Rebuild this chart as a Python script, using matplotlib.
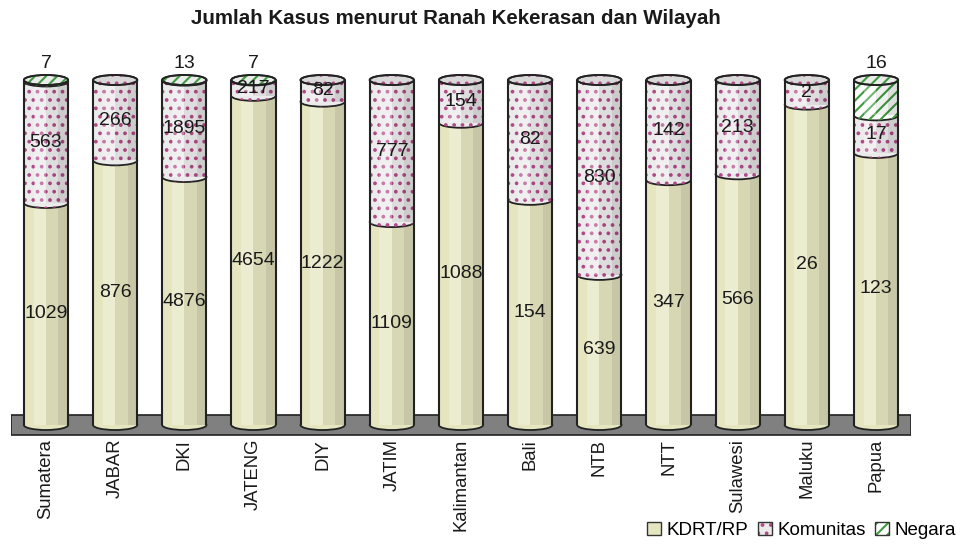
import matplotlib
matplotlib.use("Agg")
import matplotlib.pyplot as plt
import matplotlib.patches as mpatches
from matplotlib.legend_handler import HandlerTuple
import numpy as np

plt.rcParams['font.family'] = ['Liberation Sans', 'DejaVu Sans']
plt.rcParams['hatch.linewidth'] = 1.5

regions = ["Sumatera", "JABAR", "DKI", "JATENG", "DIY", "JATIM", "Kalimantan",
           "Bali", "NTB", "NTT", "Sulawesi", "Maluku", "Papua"]
kdrt = [1029, 876, 4876, 4654, 1222, 1109, 1088, 154, 639, 347, 566, 26, 123]
komunitas = [563, 266, 1895, 217, 82, 777, 154, 82, 830, 142, 213, 2, 17]
negara = [7, 0, 13, 7, 0, 0, 0, 0, 0, 0, 0, 0, 16]
series_names = ["KDRT/RP", "Komunitas", "Negara"]
title = "Jumlah Kasus menurut Ranah Kekerasan dan Wilayah"

series = [kdrt, komunitas, negara]
fills = ['#E5E5C0', '#ECEBEC', '#FFFFFF']
hatches = [None, '..', '///']
hatch_cols = [None, '#B04A86', '#3E9A3E']

W, H = 956, 546
fig = plt.figure(figsize=(W / 100, H / 100), dpi=100)
# axes: x from px 11.4 to 910.6 ; y: bottom px 436 -> top px 40
ax = fig.add_axes([11.4 / W, (H - 436) / H, (910.6 - 11.4) / W, (436 - 40) / H])
ppu = 3.45  # pixels per percent
ax.set_xlim(-0.5, len(regions) - 0.5)
ax.set_ylim(-(436 - 425) / ppu, (425 - 40) / ppu)
for s in ax.spines.values():
    s.set_visible(False)
ax.set_yticks([])

bw = 0.64
eh = 10 / ppu  # ellipse height in data units

# floor
fl = (425 - 415) / ppu
ax.add_patch(mpatches.Rectangle((-0.5, -fl), len(regions), 2 * fl, facecolor='#808080',
                                edgecolor='#222222', lw=1.2, zorder=1))

x = np.arange(len(regions))
totals = np.array(kdrt) + np.array(komunitas) + np.array(negara)

for i in range(len(regions)):
    bottom = 0.0
    top_idx = 0
    for k, vals in enumerate(series):
        v = vals[i]
        if v <= 0:
            continue
        p = v / totals[i] * 100
        z = 3 + 2 * k
        # bottom ellipse of the segment
        ax.add_patch(mpatches.Ellipse((x[i], bottom), bw, eh, facecolor=fills[k],
                                      edgecolor='#222222', lw=1.3, zorder=z))
        if hatches[k]:
            ax.add_patch(mpatches.Ellipse((x[i], bottom), bw, eh, facecolor='none',
                                          edgecolor=hatch_cols[k], hatch=hatches[k],
                                          lw=0, zorder=z))
        ax.bar(x[i], p, bw, bottom=bottom, color=fills[k], lw=0, zorder=z + 1)
        if hatches[k]:
            ax.bar(x[i], p, bw, bottom=bottom, color='none', edgecolor=hatch_cols[k],
                   hatch=hatches[k], lw=0, zorder=z + 1)
        # shading bands
        for (a0, a1, col, al) in [(0.22, 0.5, 'white', 0.28), (0.5, 0.78, 'black', 0.06),
                                  (0.78, 1.0, 'black', 0.13)]:
            ax.bar(x[i] - bw / 2 + bw * a0, p, bw * (a1 - a0), bottom=bottom, align='edge',
                   color=col, alpha=al, lw=0, zorder=z + 1)
        # value label
        if k < 2:
            ax.text(x[i], bottom + p / 2, f"{v}", ha='center', va='center', fontsize=14,
                    color='#1a1a1a', zorder=20)
        else:
            ax.text(x[i], 104.8, f"{v}", ha='center', va='center', fontsize=14,
                    color='#1a1a1a', zorder=20)
        bottom += p
        top_idx = k
    # top ellipse
    ax.add_patch(mpatches.Ellipse((x[i], 100), bw, eh, facecolor=fills[top_idx],
                                  edgecolor='#222222', lw=1.3, zorder=12))
    ax.add_patch(mpatches.Ellipse((x[i], 100), bw, eh, facecolor='#000000', alpha=0.08,
                                  lw=0, zorder=12))
    if hatches[top_idx]:
        ax.add_patch(mpatches.Ellipse((x[i], 100), bw, eh, facecolor='none',
                                      edgecolor=hatch_cols[top_idx], hatch=hatches[top_idx],
                                      lw=0, zorder=12))
    ax.add_patch(mpatches.Ellipse((x[i], 100), bw, eh, facecolor='none',
                                  edgecolor='#222222', lw=1.3, zorder=13))
    ax.vlines([x[i] - bw / 2, x[i] + bw / 2], 0, 100, color='#222222', lw=1.5, zorder=13)

ax.set_xticks(x)
ax.set_xticklabels(regions, rotation=90, fontsize=13.3, color='#1a1a1a')
ax.tick_params(axis='x', length=0, pad=2)

fig.text(0.477, 0.966, title, ha='center', va='center', fontsize=14.8, fontweight='bold',
         color='#1a1a1a')

handles = []
for k in range(3):
    h1 = mpatches.Patch(facecolor=fills[k], edgecolor=hatch_cols[k] or fills[k],
                        hatch=hatches[k], lw=0)
    h2 = mpatches.Patch(facecolor='none', edgecolor='#333333', lw=1.0)
    handles.append((h1, h2))
fig.legend(handles, series_names, handler_map={tuple: HandlerTuple(ndivide=1)},
           loc='lower right', bbox_to_anchor=(1.012, -0.008), ncol=3, frameon=False,
           fontsize=13.5, handlelength=0.75, handleheight=0.75, handletextpad=0.3,
           columnspacing=0.5, borderaxespad=0.2)

fig.savefig("out.png", dpi=100)
